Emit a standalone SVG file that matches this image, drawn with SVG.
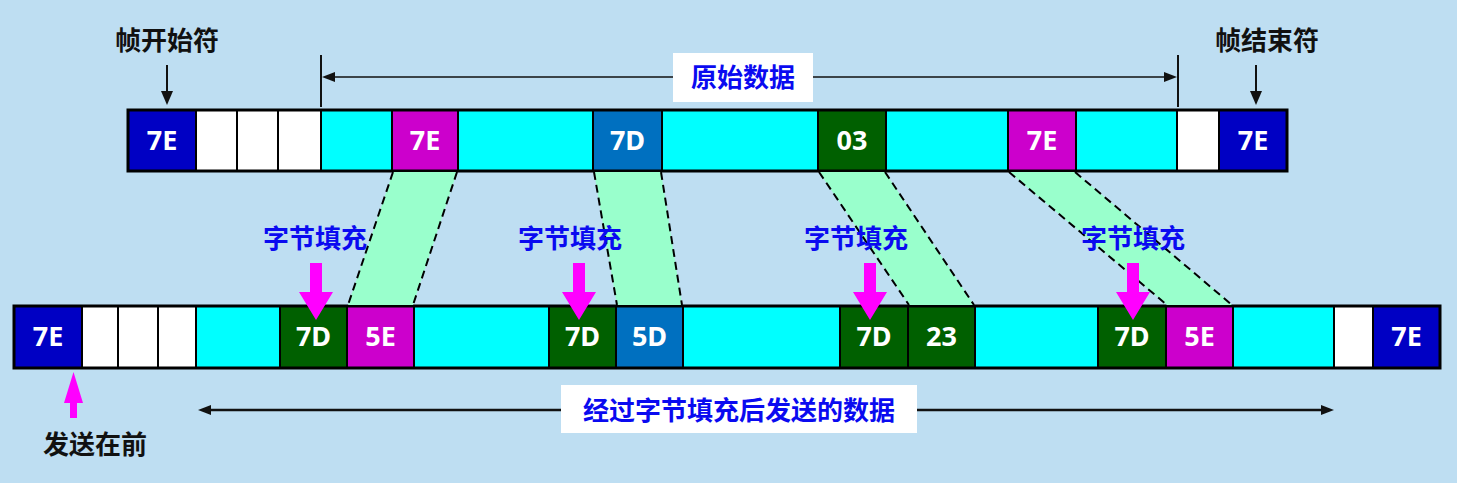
<svg xmlns="http://www.w3.org/2000/svg" width="1457" height="483" viewBox="0 0 1457 483">
<defs>
<style>
.bg{fill:#BEDEF2}
.c{stroke:#000;stroke-width:2}
.blue{fill:#0000C4}
.wht{fill:#FFFFFF}
.cyan{fill:#00FFFF}
.mag{fill:#CC00CC}
.lb{fill:#0070C0}
.grn{fill:#006000}
.hex{font-family:"Noto Sans","Liberation Sans",sans-serif;font-weight:bold;font-size:27px;fill:#FFFFFF;text-anchor:middle}
.lbl{font-family:"Noto Sans CJK SC","Noto Sans",sans-serif;font-weight:bold;font-size:26px;text-anchor:middle}
.bl{fill:#0A0AF0}
.bk{fill:#111}
.band{fill:#99FFCC}
.dash{stroke:#000;stroke-width:2;stroke-dasharray:8 5;fill:none}
.mg{fill:#FF00FF}
.ln{stroke:#111;fill:none}
</style>
</defs>
<rect class="bg" x="0" y="0" width="1457" height="483"/>

<g id="top-row">
<g id="t0"><rect class="c blue" x="128" y="110" width="68" height="61"/><text class="hex" x="162" y="150">7E</text></g>
<g id="t1"><rect class="c wht" x="196" y="110" width="41" height="61"/></g>
<g id="t2"><rect class="c wht" x="237" y="110" width="41" height="61"/></g>
<g id="t3"><rect class="c wht" x="278" y="110" width="43" height="61"/></g>
<g id="t4"><rect class="c cyan" x="321" y="110" width="71" height="61"/></g>
<g id="t5"><rect class="c mag" x="392" y="110" width="66" height="61"/><text class="hex" x="425" y="150">7E</text></g>
<g id="t6"><rect class="c cyan" x="458" y="110" width="135" height="61"/></g>
<g id="t7"><rect class="c lb" x="593" y="110" width="69" height="61"/><text class="hex" x="627.5" y="150">7D</text></g>
<g id="t8"><rect class="c cyan" x="662" y="110" width="156" height="61"/></g>
<g id="t9"><rect class="c grn" x="818" y="110" width="68" height="61"/><text class="hex" x="852" y="150">03</text></g>
<g id="t10"><rect class="c cyan" x="886" y="110" width="122" height="61"/></g>
<g id="t11"><rect class="c mag" x="1008" y="110" width="68" height="61"/><text class="hex" x="1042" y="150">7E</text></g>
<g id="t12"><rect class="c cyan" x="1076" y="110" width="101" height="61"/></g>
<g id="t13"><rect class="c wht" x="1177" y="110" width="42" height="61"/></g>
<g id="t14"><rect class="c blue" x="1219" y="110" width="68" height="61"/><text class="hex" x="1253" y="150">7E</text></g>
<rect x="128" y="110" width="1159" height="61" fill="none" stroke="#000" stroke-width="3"/>
</g>

<g id="bottom-row">
<g id="b0"><rect class="c blue" x="14" y="306" width="68" height="62"/><text class="hex" x="48" y="346">7E</text></g>
<g id="b1"><rect class="c wht" x="82" y="306" width="36" height="62"/></g>
<g id="b2"><rect class="c wht" x="118" y="306" width="40" height="62"/></g>
<g id="b3"><rect class="c wht" x="158" y="306" width="38" height="62"/></g>
<g id="b4"><rect class="c cyan" x="196" y="306" width="84" height="62"/></g>
<g id="b5"><rect class="c grn" x="280" y="306" width="67" height="62"/><text class="hex" x="313.5" y="346">7D</text></g>
<g id="b6"><rect class="c mag" x="347" y="306" width="67" height="62"/><text class="hex" x="380.5" y="346">5E</text></g>
<g id="b7"><rect class="c cyan" x="414" y="306" width="135" height="62"/></g>
<g id="b8"><rect class="c grn" x="549" y="306" width="67" height="62"/><text class="hex" x="582.5" y="346">7D</text></g>
<g id="b9"><rect class="c lb" x="616" y="306" width="67" height="62"/><text class="hex" x="649.5" y="346">5D</text></g>
<g id="b10"><rect class="c cyan" x="683" y="306" width="157" height="62"/></g>
<g id="b11"><rect class="c grn" x="840" y="306" width="68" height="62"/><text class="hex" x="874" y="346">7D</text></g>
<g id="b12"><rect class="c grn" x="908" y="306" width="67" height="62"/><text class="hex" x="941.5" y="346">23</text></g>
<g id="b13"><rect class="c cyan" x="975" y="306" width="123" height="62"/></g>
<g id="b14"><rect class="c grn" x="1098" y="306" width="68" height="62"/><text class="hex" x="1132" y="346">7D</text></g>
<g id="b15"><rect class="c mag" x="1166" y="306" width="67" height="62"/><text class="hex" x="1199.5" y="346">5E</text></g>
<g id="b16"><rect class="c cyan" x="1233" y="306" width="101" height="62"/></g>
<g id="b17"><rect class="c wht" x="1334" y="306" width="39" height="62"/></g>
<g id="b18"><rect class="c blue" x="1373" y="306" width="67" height="62"/><text class="hex" x="1406.5" y="346">7E</text></g>
<rect x="14" y="306" width="1426" height="62" fill="none" stroke="#000" stroke-width="3"/>
</g>

<g id="connectors">
<polygon class="band" points="393,172 457,172 413,305 348,305"/>
<line class="dash" x1="393" y1="172" x2="348" y2="305"/><line class="dash" x1="457" y1="172" x2="413" y2="305"/>
<polygon class="band" points="594,172 661,172 682,305 617,305"/>
<line class="dash" x1="594" y1="172" x2="617" y2="305"/><line class="dash" x1="661" y1="172" x2="682" y2="305"/>
<polygon class="band" points="819,172 885,172 974,305 909,305"/>
<line class="dash" x1="819" y1="172" x2="909" y2="305"/><line class="dash" x1="885" y1="172" x2="974" y2="305"/>
<polygon class="band" points="1009,172 1075,172 1232,305 1167,305"/>
<line class="dash" x1="1009" y1="172" x2="1167" y2="305"/><line class="dash" x1="1075" y1="172" x2="1232" y2="305"/>

<line class="ln" stroke-width="2" x1="321" y1="55" x2="321" y2="107"/>
<line class="ln" stroke-width="2" x1="1178" y1="55" x2="1178" y2="107"/>
<line class="ln" stroke-width="1.5" x1="330" y1="77" x2="673" y2="77"/>
<line class="ln" stroke-width="1.5" x1="813" y1="77" x2="1168" y2="77"/>
<polygon fill="#111" points="322,77 335,72 335,82"/>
<polygon fill="#111" points="1177,77 1164,72 1164,82"/>

<line class="ln" stroke-width="2" x1="167" y1="65" x2="167" y2="94"/>
<polygon fill="#111" points="161,91 173,91 167,105"/>
<line class="ln" stroke-width="2" x1="1256" y1="65" x2="1256" y2="94"/>
<polygon fill="#111" points="1250,91 1262,91 1256,105"/>

<line class="ln" stroke-width="2.5" x1="208" y1="410" x2="561" y2="410"/>
<line class="ln" stroke-width="2.5" x1="917" y1="410" x2="1323" y2="410"/>
<polygon fill="#111" points="198,410 211,405 211,415"/>
<polygon fill="#111" points="1334,410 1321,405 1321,415"/>

<polygon class="mg" points="310,263 322,263 322,292 333,292 316,320 299,292 310,292"/>
<polygon class="mg" points="573,263 585,263 585,292 596,292 579,320 562,292 573,292"/>
<polygon class="mg" points="864,263 876,263 876,292 887,292 870,320 853,292 864,292"/>
<polygon class="mg" points="1127,263 1139,263 1139,292 1150,292 1133,320 1116,292 1127,292"/>
<polygon class="mg" points="73.5,372 83,403 77,403 77,418 70,418 70,403 64,403"/>
</g>

<g id="label-start"><text class="lbl bk" x="167" y="50">帧开始符</text></g>
<g id="label-end"><text class="lbl bk" x="1267" y="50">帧结束符</text></g>
<g id="label-orig"><rect fill="#FFFFFF" x="673" y="53" width="140" height="49"/><text class="lbl bl" x="743" y="87">原始数据</text></g>
<g id="label-sent"><rect fill="#FFFFFF" x="561" y="385" width="356" height="48"/><text class="lbl bl" x="739" y="420">经过字节填充后发送的数据</text></g>
<g id="label-first"><text class="lbl bk" x="95" y="454">发送在前</text></g>
<g id="stuff1"><text class="lbl bl" x="315" y="248">字节填充</text></g>
<g id="stuff2"><text class="lbl bl" x="570" y="248">字节填充</text></g>
<g id="stuff3"><text class="lbl bl" x="856" y="248">字节填充</text></g>
<g id="stuff4"><text class="lbl bl" x="1133" y="248">字节填充</text></g>
</svg>
